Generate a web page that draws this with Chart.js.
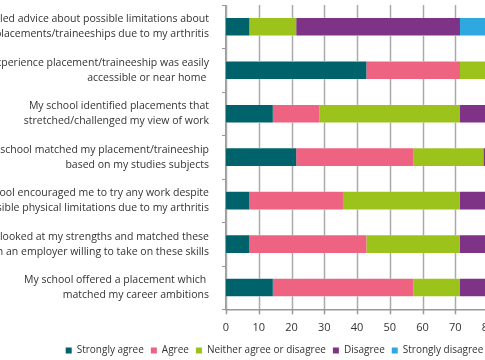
<!DOCTYPE html>
<html>
<head>
<meta charset="utf-8">
<script src="https://cdn.jsdelivr.net/npm/chart.js@4"></script>
<style>
  html, body { margin:0; padding:0; width:485px; height:360px; overflow:hidden; background:#fff; }
  #wrap { position:absolute; left:-20px; top:4.5px; width:590px; height:360.5px; }
</style>
</head>
<body>
<div id="wrap"><canvas id="chart"></canvas></div>
<script>
// statements (top to bottom)
const statements = [
  ['My school gave detailed advice about possible limitations about', 'placements/traineeships due to my arthritis'],
  ['My work experience placement/traineeship was easily', 'accessible or near home '],
  ['My school identified placements that', 'stretched/challenged my view of work'],
  ['My school matched my placement/traineeship', 'based on my studies subjects'],
  ['My school encouraged me to try any work despite', 'possible physical limitations due to my arthritis'],
  ['My school looked at my strengths and matched these', 'with an employer willing to take on these skills'],
  ['My school offered a placement which ', 'matched my career ambitions']
];

// percentages per response
const stronglyAgree    = [7.14, 42.86, 14.29, 21.43, 7.14, 7.14, 14.29];
const agree            = [0, 28.57, 14.29, 35.71, 28.57, 35.71, 42.86];
const neither          = [14.29, 21.43, 42.86, 21.43, 35.71, 28.57, 14.29];
const disagree         = [50, 7.14, 28.57, 21.43, 28.57, 28.57, 28.57];
const stronglyDisagree = [28.57, 0, 0, 0, 0, 0, 0];

const xMin = 0, xMax = 100, xStep = 10;

const font = "'Open Sans', sans-serif";
const gridGray = '#aaaaaa';
const axisGray = '#999';

// vertical grid lines drawn in the gaps between bars, on top, via the chart's scales and bar elements
function drawGrid(chart) {
  const { ctx, chartArea, scales: { x, y } } = chart;
  const bars = chart.getDatasetMeta(0).data.map(el => {
    const p = el.getProps(['y', 'height'], true);
    return [p.y - p.height / 2, p.y + p.height / 2];
  }).sort((a, b) => a[0] - b[0]);
  const gaps = [];
  let top = chartArea.top;
  bars.forEach(([b0, b1]) => { gaps.push([top, b0]); top = b1; });
  gaps.push([top, chartArea.bottom]);

  ctx.save();
  x.ticks.forEach(t => {
    const px = Math.round(x.getPixelForValue(t.value)) + 0.5;
    ctx.lineWidth = 1.5;
    ctx.strokeStyle = gridGray;
    gaps.forEach(([g0, g1]) => {
      ctx.beginPath();
      ctx.moveTo(px, g0);
      ctx.lineTo(px, g1);
      ctx.stroke();
    });
    ctx.strokeStyle = axisGray;
    ctx.beginPath();
    ctx.moveTo(px, chartArea.bottom);
    ctx.lineTo(px, chartArea.bottom + 5);
    ctx.stroke();
  });
  const n = y.getLabels().length;
  const half = (y.getPixelForValue(1) - y.getPixelForValue(0)) / 2;
  ctx.lineWidth = 1;
  ctx.strokeStyle = axisGray;
  for (let i = 0; i <= n; i++) {
    const py = Math.round(y.getPixelForValue(i) - half) + 0.5;
    ctx.beginPath();
    ctx.moveTo(chartArea.left - 4, py);
    ctx.lineTo(chartArea.left, py);
    ctx.stroke();
  }
  ctx.restore();
}

const gridPlugin = {
  id: 'gridGaps',
  afterLayout(chart) {
    // nudge the legend a little right, as in the source image
    if (chart.legend) { chart.legend.left += 6; chart.legend.right += 6; }
  },
  afterDraw(chart) { drawGrid(chart); }
};

new Chart(document.getElementById('chart'), {
  type: 'bar',
  data: {
    labels: statements,
    datasets: [
      { label: 'Strongly agree', data: stronglyAgree, backgroundColor: '#00636b' },
      { label: 'Agree', data: agree, backgroundColor: '#ee6282' },
      { label: 'Neither agree or disagree', data: neither, backgroundColor: '#9bc31c' },
      { label: 'Disagree', data: disagree, backgroundColor: '#7f3386' },
      { label: 'Strongly disagree', data: stronglyDisagree, backgroundColor: '#2ea8df' }
    ]
  },
  options: {
    indexAxis: 'y',
    responsive: true,
    maintainAspectRatio: false,
    animation: false,
    layout: { padding: { left: 0, right: 13, top: 0, bottom: 0 } },
    datasets: { bar: { barPercentage: 0.9, categoryPercentage: 0.45, borderWidth: 0 } },
    scales: {
      x: {
        stacked: true,
        min: xMin, max: xMax,
        afterFit: s => { s.height -= 3; },
        grid: { display: false, tickLength: 5 },
        border: { display: true, color: axisGray, width: 1.5 },
        ticks: { stepSize: xStep, color: '#333', font: { family: font, size: 11 }, padding: 7 }
      },
      y: {
        stacked: true,
        afterFit: s => { s.width = 246; s.paddingTop = 0; s.paddingBottom = 0; },
        grid: { display: false, tickLength: 4 },
        border: { display: true, color: axisGray, width: 2 },
        ticks: { color: '#333', font: { family: font, size: 10.5, lineHeight: 1.43 }, padding: 13 }
      }
    },
    plugins: {
      legend: {
        position: 'bottom',
        labels: { boxWidth: 6, boxHeight: 6, padding: 7, color: '#333', font: { family: font, size: 10 } }
      },
      tooltip: { enabled: false }
    }
  },
  plugins: [gridPlugin]
});
</script>
</body>
</html>
